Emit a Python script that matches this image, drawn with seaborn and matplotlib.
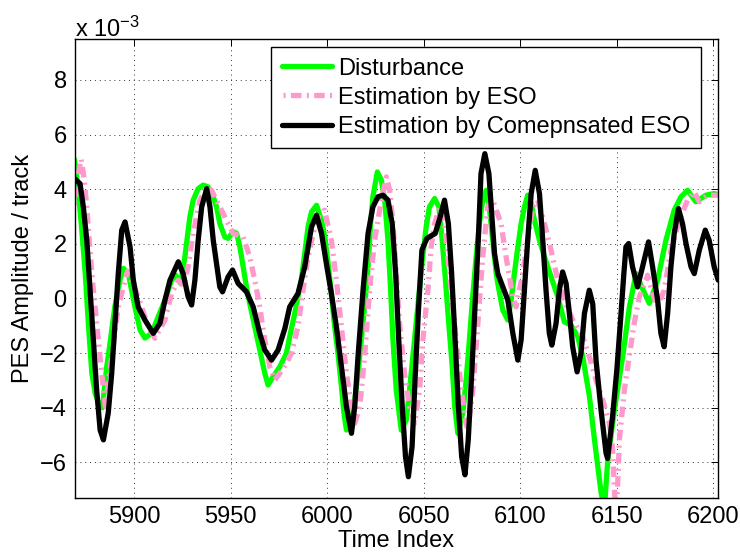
import seaborn as sns
import matplotlib.pyplot as plt

# values are in units of 1e-3 (the axis carries the "x 10^-3" note)

# Disturbance
dist_t = [5869.0, 5871.0, 5872.8, 5874.6, 5876.2, 5878.0, 5879.7, 5882.0, 5883.5, 5885.7,
          5886.5, 5889.9, 5892.6, 5894.3, 5896.9, 5900.3, 5903.0, 5905.5, 5909.0, 5912.4,
          5915.9, 5919.3, 5921.5, 5924.0, 5926.2, 5928.8, 5930.5, 5933.1, 5935.7, 5938.3,
          5940.9, 5942.6, 5944.3, 5946.9, 5948.6, 5951.2, 5953.0, 5954.7, 5956.4, 5958.1,
          5959.8, 5962.4, 5965.0, 5967.6, 5969.3, 5971.9, 5975.4, 5978.8, 5980.5, 5983.1,
          5986.5, 5988.3, 5990.0, 5991.8, 5994.4, 5997.0, 5998.7, 6000.4, 6002.1, 6003.8,
          6005.5, 6007.3, 6008.6, 6009.9, 6012.5, 6014.2, 6015.9, 6017.6, 6019.3, 6021.1,
          6022.4, 6023.6, 6025.9, 6028.0, 6029.7, 6031.4, 6032.8, 6034.0, 6035.7, 6038.3,
          6040.9, 6042.6, 6044.3, 6046.0, 6047.7, 6049.4, 6051.2, 6052.9, 6055.6, 6057.8,
          6059.5, 6061.2, 6062.9, 6064.7, 6066.0, 6067.6, 6070.2, 6071.9, 6073.6, 6075.3,
          6077.1, 6078.8, 6080.5, 6082.3, 6083.9, 6085.7, 6087.5, 6088.3, 6090.9, 6093.5,
          6095.2, 6096.9, 6098.7, 6100.4, 6102.1, 6103.8, 6105.6, 6107.3, 6109.9, 6112.5,
          6115.9, 6119.4, 6122.8, 6126.3, 6129.7, 6132.3, 6135.8, 6138.4, 6141.8, 6143.5,
          6145.3, 6148.8, 6153.0, 6156.4, 6159.9, 6163.0, 6166.8, 6171.1, 6175.4, 6179.7,
          6183.2, 6186.6, 6190.9, 6196.1, 6200.4, 6202.5]
dist_v = [5.1, 3.96, 2.5, 0.9, -0.92, -2.74, -3.47, -3.96, -4.0, -2.5,
          -2.13, -0.31, 0.67, 1.1, 0.91, -0.3, -1.16, -1.45, -1.28, -0.67,
          -0.06, 0.67, 0.85, 0.55, 1.52, 2.99, 3.6, 4.02, 4.15, 4.08,
          3.72, 3.35, 2.74, 2.25, 2.2, 2.44, 2.38, 1.89, 1.16, 0.42,
          -0.18, -1.04, -1.89, -2.74, -3.17, -2.87, -2.5, -2.01, -1.4, -0.55,
          0.67, 1.65, 2.62, 3.17, 3.41, 2.86, 2.25, 1.28, 0.18, -1.04,
          -2.0, -3.23, -4.2, -4.82, -4.57, -3.72, -2.74, -1.52, -0.31, 1.16,
          2.74, 3.72, 4.63, 4.33, 3.6, 2.13, 0.3, -1.52, -3.35, -4.82,
          -4.45, -3.35, -2.13, -0.91, 0.3, 1.52, 2.62, 3.35, 3.66, 3.35,
          2.13, 0.67, -0.91, -2.5, -3.96, -4.94, -4.2, -2.99, -1.52, 0.06,
          1.52, 2.74, 3.6, 3.96, 3.35, 2.13, 0.91, 0.55, -0.43, -0.79,
          -0.06, 0.91, 1.89, 2.74, 3.35, 3.78, 3.48, 2.86, 2.13, 1.52,
          0.79, 0.06, -0.86, -0.98, -1.4, -2.13, -3.6, -5.18, -7.1, -7.7,
          -5.9, -4.05, -2.13, -0.35, 0.91, 0.4, -0.18, 0.67, 2.13, 3.23,
          3.72, 3.96, 3.54, 3.78, 3.84, 3.8]

# Estimation by ESO
eso_t = [5869.0, 5871.0, 5872.5, 5874.0, 5875.4, 5878.0, 5880.5, 5883.1, 5885.0, 5888.3,
         5891.7, 5895.2, 5896.5, 5902.0, 5907.2, 5910.7, 5915.9, 5919.3, 5922.8, 5925.5,
         5927.9, 5930.5, 5934.0, 5937.5, 5940.0, 5944.3, 5947.8, 5951.2, 5956.4, 5959.8,
         5962.4, 5965.0, 5967.6, 5970.2, 5972.8, 5975.4, 5978.8, 5981.4, 5984.8, 5987.4,
         5990.0, 5993.5, 5996.0, 5998.6, 6002.1, 6004.7, 6007.3, 6009.9, 6012.5, 6014.2,
         6016.8, 6019.3, 6021.9, 6024.5, 6028.0, 6030.6, 6032.3, 6034.0, 6035.7, 6037.4,
         6040.0, 6042.6, 6045.2, 6047.8, 6049.5, 6052.1, 6053.8, 6055.6, 6058.2, 6060.7,
         6063.3, 6065.9, 6068.5, 6071.1, 6072.8, 6075.4, 6078.0, 6080.5, 6083.1, 6085.7,
         6090.0, 6092.6, 6096.1, 6097.8, 6101.2, 6103.8, 6106.4, 6109.0, 6112.5, 6115.9,
         6119.4, 6122.8, 6127.1, 6132.3, 6136.0, 6139.2, 6143.0, 6146.1, 6147.8, 6148.7,
         6149.4, 6150.3, 6151.3, 6153.9, 6156.4, 6159.0, 6161.6, 6165.1, 6165.9, 6168.5,
         6171.1, 6174.5, 6178.0, 6182.3, 6186.6, 6190.1, 6192.7, 6196.9, 6202.5]
eso_v = [3.4, 4.6, 5.1, 4.4, 3.35, 0.91, -0.91, -2.74, -3.96, -2.13,
         -0.31, 0.67, 1.0, 0.06, -1.04, -1.46, -0.79, 0.18, 0.67, 0.45,
         1.16, 2.38, 3.6, 4.08, 3.96, 3.35, 2.86, 2.38, 2.25, 1.52,
         0.67, -0.31, -1.52, -2.5, -2.99, -2.74, -2.38, -2.01, -1.04, 0.3,
         1.52, 2.62, 3.1, 3.23, 2.13, 0.67, -1.04, -2.74, -3.96, -4.57,
         -3.96, -2.13, 0.3, 2.13, 3.6, 4.45, 3.96, 2.74, 0.91, -0.91,
         -2.74, -3.96, -4.57, -3.35, -1.52, 0.3, 1.89, 2.74, 3.35, 2.74,
         0.91, -0.91, -2.74, -4.33, -4.82, -3.35, -0.91, 1.52, 3.35, 3.6,
         2.74, 1.52, 0.06, -0.31, 0.91, 2.13, 3.35, 3.6, 2.74, 1.77,
         0.67, -0.06, -0.79, -1.4, -2.2, -2.99, -3.8, -4.57, -5.5, -7.0,
         -7.8, -7.0, -5.18, -3.35, -2.13, -0.91, 0.06, 0.67, 0.85, 0.18,
         -0.31, 0.3, 1.77, 2.86, 3.6, 3.9, 3.54, 3.78, 3.78]

# Estimation by compensated ESO
ceso_t = [5869.0, 5871.9, 5873.6, 5875.4, 5877.1, 5878.8, 5880.5, 5882.3, 5884.0, 5886.5,
          5888.3, 5890.0, 5891.7, 5893.5, 5895.2, 5897.8, 5899.5, 5902.0, 5905.5, 5909.8,
          5913.3, 5915.9, 5918.5, 5922.8, 5925.3, 5927.9, 5929.7, 5931.4, 5933.1, 5934.9,
          5937.5, 5939.2, 5940.9, 5942.6, 5944.3, 5945.7, 5948.6, 5950.9, 5953.8, 5958.1,
          5961.6, 5965.0, 5967.6, 5971.1, 5974.5, 5978.0, 5980.5, 5984.8, 5988.3, 5991.8,
          5994.4, 5997.0, 5999.5, 6002.1, 6004.7, 6007.3, 6009.9, 6012.5, 6014.2, 6015.9,
          6018.5, 6021.1, 6023.6, 6026.2, 6028.8, 6031.4, 6033.6, 6035.4, 6037.0, 6038.8,
          6040.5, 6042.0, 6043.9, 6045.6, 6047.3, 6049.0, 6051.6, 6055.9, 6058.5, 6060.7,
          6062.7, 6064.4, 6066.2, 6067.9, 6069.6, 6071.3, 6073.0, 6074.8, 6076.5, 6078.2,
          6079.6, 6081.6, 6083.7, 6084.9, 6086.6, 6088.3, 6090.9, 6093.5, 6096.1, 6098.7,
          6100.4, 6102.1, 6103.8, 6105.6, 6107.7, 6109.9, 6111.6, 6113.3, 6115.0, 6116.3,
          6118.5, 6120.2, 6121.9, 6123.7, 6125.4, 6127.1, 6129.4, 6131.4, 6133.2, 6135.7,
          6137.5, 6139.2, 6141.8, 6144.4, 6145.2, 6147.8, 6150.0, 6152.0, 6153.5, 6154.7,
          6156.1, 6158.1, 6160.7, 6163.3, 6166.4, 6168.5, 6171.1, 6172.8, 6174.5, 6176.3,
          6178.0, 6179.7, 6181.9, 6184.0, 6185.8, 6188.4, 6190.1, 6192.7, 6195.8, 6197.8,
          6200.4, 6202.5]
ceso_v = [4.39, 4.2, 3.35, 2.13, 0.3, -1.52, -3.35, -4.82, -5.18, -4.2,
          -2.74, -0.91, 0.91, 2.5, 2.8, 1.89, 0.67, -0.31, -0.79, -1.28,
          -0.91, -0.06, 0.67, 1.34, 0.91, 0.06, -0.24, 0.67, 2.13, 3.35,
          4.02, 3.35, 2.13, 1.28, 0.42, 0.24, 0.79, 1.04, 0.55, 0.24,
          -0.31, -1.28, -1.89, -2.26, -1.89, -1.1, -0.31, 0.18, 1.16, 2.62,
          3.05, 2.38, 1.28, 0.18, -1.04, -2.5, -3.96, -4.94, -3.96, -2.13,
          0.3, 2.38, 3.35, 3.72, 3.78, 3.6, 2.74, 0.91, -1.52, -3.96,
          -5.8, -6.53, -5.43, -2.74, -0.31, 1.77, 2.2, 2.38, 2.99, 3.6,
          2.74, 0.91, -1.52, -3.96, -5.8, -6.46, -5.18, -2.74, -0.31, 2.13,
          4.57, 5.3, 4.57, 3.35, 1.65, 0.91, 0.42, -0.06, -1.28, -2.26,
          -1.52, 0.3, 2.13, 3.84, 4.69, 3.84, 2.13, 0.3, -1.28, -1.71,
          -0.91, 0.3, 0.97, 0.55, -0.55, -1.77, -2.69, -2.01, -0.55, 0.3,
          -0.2, -2.26, -4.09, -5.67, -5.86, -4.3, -2.6, -0.7, 0.8, 1.89,
          2.01, 1.16, 0.42, 1.16, 2.07, 1.16, -0.06, -1.28, -1.77, -0.55,
          1.16, 2.38, 3.29, 2.74, 2.01, 1.16, 0.91, 1.77, 2.5, 2.13,
          1.16, 0.67]

x_ticks = [5900, 5950, 6000, 6050, 6100, 6150, 6200]
y_ticks = [-6, -4, -2, 0, 2, 4, 6, 8]

sns.set_style("white")
plt.rcParams['font.family'] = ['Liberation Sans', 'DejaVu Sans']
plt.rcParams['mathtext.default'] = 'regular'
plt.rcParams['text.color'] = 'black'
plt.rcParams['axes.labelcolor'] = 'black'

fs = 17

fig = plt.figure(figsize=(7.4, 5.59), dpi=100)
ax = fig.add_axes([0.1014, 0.1091, 0.8689, 0.8211])

sns.lineplot(x=dist_t, y=dist_v, ax=ax, color='#00ff00', lw=3.8, label='Disturbance')
sns.lineplot(x=eso_t, y=eso_v, ax=ax, color='#ff99cc', lw=3.8,
             linestyle=(2.8, (2.0, 1.0, 0.4, 1.0)), label='Estimation by ESO')
sns.lineplot(x=ceso_t, y=ceso_v, ax=ax, color='black', lw=3.8,
             label='Estimation by Comepnsated ESO')

ax.set_xlim(5869.3, 6202.4)
ax.set_ylim(-7.31, 9.5)
ax.set_xticks(x_ticks)
ax.set_yticks(y_ticks)
ax.grid(True, color='#333333', linestyle=(0, (1, 4)), lw=0.7)
ax.tick_params(direction='in', length=5, width=0.7, top=True, right=True,
               labelsize=fs, pad=6, colors='black')
for s in ax.spines.values():
    s.set_color('black')
    s.set_linewidth(1.0)

ax.set_xlabel('Time Index', fontsize=fs, labelpad=1, color='black')
ax.set_ylabel('PES Amplitude / track', fontsize=fs, labelpad=4, color='black')
ax.text(0.0, 1.004, 'x 10$^{-3}$', transform=ax.transAxes, ha='left', va='baseline',
        fontsize=fs, color='black')

leg = ax.legend(loc='upper right', bbox_to_anchor=(0.9736, 0.9826), borderaxespad=0,
                fontsize=fs, frameon=True, fancybox=False, framealpha=1,
                edgecolor='black', handlelength=2.1, handletextpad=0.28,
                labelspacing=0.3, borderpad=0.45)
leg.get_frame().set_linewidth(1.0)
for t in leg.get_texts():
    t.set_color('black')

plt.savefig('out.png', dpi=100)
